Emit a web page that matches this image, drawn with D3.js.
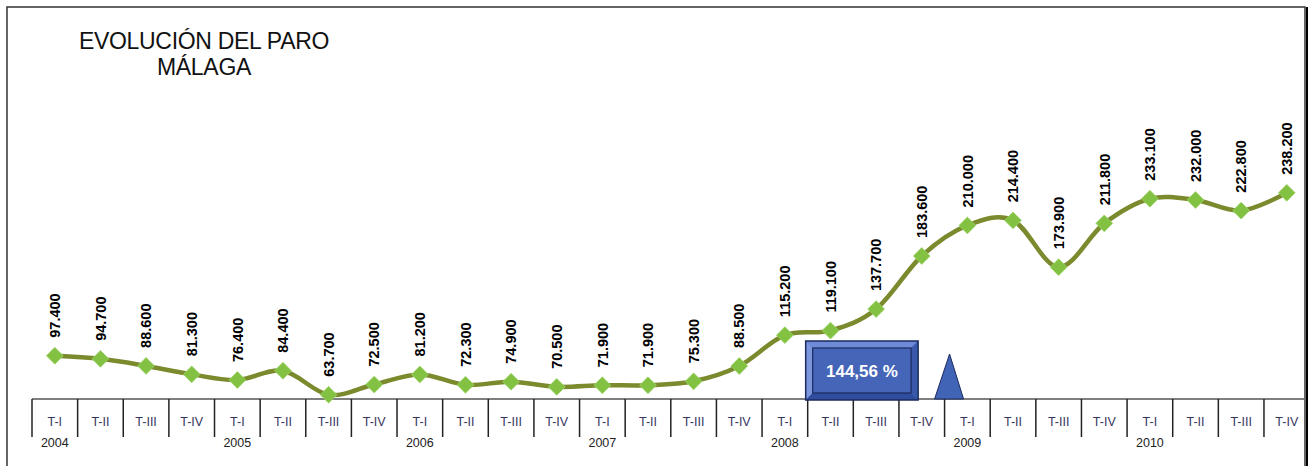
<!DOCTYPE html>
<html>
<head>
<meta charset="utf-8">
<script src="https://d3js.org/d3.v7.min.js"></script>
<style>
	body { margin: 0; background: #fff; }
	svg { display: block; font-family: "Liberation Sans", Arial, sans-serif; }
</style>
</head>
<body>
<script>

// paro registrado, Málaga, por trimestre
const years = ["2004", "2005", "2006", "2007", "2008", "2009", "2010"];
const quarters = ["T-I", "T-II", "T-III", "T-IV"];
const paro = [
	97.4, 94.7, 88.6, 81.3,
	76.4, 84.4, 63.7, 72.5,
	81.2, 72.3, 74.9, 70.5,
	71.9, 71.9, 75.3, 88.5,
	115.2, 119.1, 137.7, 183.6,
	210.0, 214.4, 173.9, 211.8,
	233.1, 232.0, 222.8, 238.2
];
const labels = paro.map(v => d3.format(".3f")(v).replace(",", ""));
const variacion = "144,56 %";

const width = 1311, height = 466;
const axisY = 399;

const cats = [];
years.forEach(y => quarters.forEach(q => cats.push(y + " " + q)));

var x = d3.scaleBand().domain(cats).range([32, 1309.6]).padding(0);
var y = d3.scaleLinear().domain([60, 260]).range([axisY, axisY - 200 * 1.157]);

var svg = d3.select("body").append("svg")
	.attr("width", width)
	.attr("height", height);

svg.append("defs").append("clipPath")
	.attr("id", "clip")
	.append("rect")
		.attr("x", 0).attr("y", 0)
		.attr("width", 1304).attr("height", height);

// marco
svg.append("rect")
	.attr("x", 7).attr("y", 7)
	.attr("width", 1298).attr("height", 470)
	.attr("fill", "none")
	.attr("stroke", "#333")
	.attr("stroke-width", 1.5);
svg.append("line")
	.attr("x1", 1307).attr("x2", 1307)
	.attr("y1", 7).attr("y2", height)
	.attr("stroke", "#000")
	.attr("stroke-width", 2);

// titulo
var title = svg.append("text")
	.attr("x", 204)
	.attr("text-anchor", "middle")
	.attr("font-size", 23)
	.attr("fill", "#111")
	.attr("letter-spacing", -0.3);
title.append("tspan").attr("x", 204).attr("y", 49).text("EVOLUCIÓN DEL PARO");
title.append("tspan").attr("x", 204).attr("y", 75).text("MÁLAGA");

var plot = svg.append("g").attr("clip-path", "url(#clip)");

// eje de categorias
plot.append("line")
	.attr("x1", x.range()[0]).attr("x2", x.range()[1])
	.attr("y1", axisY).attr("y2", axisY)
	.attr("stroke", "#555")
	.attr("stroke-width", 1.5);

plot.selectAll(".sep")
	.data(cats)
	.enter()
	.append("line")
	.attr("class", "sep")
	.attr("x1", d => x(d)).attr("x2", d => x(d))
	.attr("y1", axisY).attr("y2", 437)
	.attr("stroke", "#222")
	.attr("stroke-width", 1.5);

plot.selectAll(".qlab")
	.data(cats)
	.enter()
	.append("text")
	.attr("class", "qlab")
	.attr("x", d => x(d) + x.bandwidth() / 2)
	.attr("y", 426)
	.attr("text-anchor", "middle")
	.attr("font-size", 12.5)
	.attr("fill", "#35355e")
	.text((d, i) => quarters[i % 4]);

plot.selectAll(".ylab")
	.data(years)
	.enter()
	.append("text")
	.attr("class", "ylab")
	.attr("x", d => x(d + " T-I") + x.bandwidth() / 2)
	.attr("y", 447)
	.attr("text-anchor", "middle")
	.attr("font-size", 12.5)
	.attr("fill", "#222")
	.text(d => d);

// anotacion: caja y triangulo
var bx0 = x(cats[17]) - 2, bx1 = x(cats[19]) + x.bandwidth() * 0.42;
var by0 = 341, by1 = axisY + 1, bv = 7;
var box = svg.append("g");
box.append("rect")
	.attr("x", bx0).attr("y", by0)
	.attr("width", bx1 - bx0).attr("height", by1 - by0)
	.attr("fill", "#4c6cc2");
box.append("polygon")
	.attr("points", [[bx0, by0], [bx1, by0], [bx1 - bv, by0 + bv], [bx0 + bv, by0 + bv]].join(" "))
	.attr("fill", "#6f8bd8");
box.append("polygon")
	.attr("points", [[bx0, by0], [bx0 + bv, by0 + bv], [bx0 + bv, by1 - bv], [bx0, by1]].join(" "))
	.attr("fill", "#7d97de");
box.append("polygon")
	.attr("points", [[bx0, by1], [bx0 + bv, by1 - bv], [bx1 - bv, by1 - bv], [bx1, by1]].join(" "))
	.attr("fill", "#2f4d9e");
box.append("polygon")
	.attr("points", [[bx1, by0], [bx1, by1], [bx1 - bv, by1 - bv], [bx1 - bv, by0 + bv]].join(" "))
	.attr("fill", "#3a59ab");
box.append("rect")
	.attr("x", bx0 + bv).attr("y", by0 + bv)
	.attr("width", bx1 - bx0 - 2 * bv).attr("height", by1 - by0 - 2 * bv)
	.attr("fill", "#4565b9")
	.attr("stroke", "#1b2a5e")
	.attr("stroke-width", 1.2);
box.append("rect")
	.attr("x", bx0).attr("y", by0)
	.attr("width", bx1 - bx0).attr("height", by1 - by0)
	.attr("fill", "none")
	.attr("stroke", "#1b2a5e")
	.attr("stroke-width", 1.5);
box.append("text")
	.attr("x", (bx0 + bx1) / 2)
	.attr("y", (by0 + by1) / 2 + 6)
	.attr("text-anchor", "middle")
	.attr("font-size", 17)
	.attr("font-weight", "bold")
	.attr("fill", "#fff")
	.text(variacion);

var tx = x(cats[20]) + 5;
svg.append("polygon")
	.attr("points", [[tx, 354], [tx - 15, axisY], [tx + 14, axisY]].join(" "))
	.attr("fill", "#4164b6")
	.attr("stroke", "#1b2a5e")
	.attr("stroke-width", 1);

// linea suavizada
var line = d3.line()
	.x((d, i) => x(cats[i]) + x.bandwidth() / 2)
	.y(d => y(d))
	.curve(d3.curveCatmullRom.alpha(0));

plot.append("path")
	.datum(paro)
	.attr("d", line)
	.attr("fill", "none")
	.attr("stroke", "#7a8a2c")
	.attr("stroke-width", 4.5)
	.attr("stroke-linejoin", "round");

plot.selectAll(".pt")
	.data(paro)
	.enter()
	.append("path")
	.attr("class", "pt")
	.attr("d", d3.symbol(d3.symbolDiamond2, 180))
	.attr("transform", (d, i) => "translate(" + (x(cats[i]) + x.bandwidth() / 2) + "," + y(d) + ")")
	.attr("fill", "#82c141")
	.attr("stroke", "#9ed46a")
	.attr("stroke-width", 0.8);

// etiquetas de datos
plot.selectAll(".val")
	.data(paro)
	.enter()
	.append("text")
	.attr("class", "val")
	.attr("transform", (d, i) => "translate(" + (x(cats[i]) + x.bandwidth() / 2) + "," + (y(d) - 18) + ") rotate(-90)")
	.attr("dy", "0.36em")
	.attr("font-size", 14.5)
	.attr("font-weight", "bold")
	.attr("fill", "#000")
	.text((d, i) => labels[i]);

</script>
</body>
</html>
